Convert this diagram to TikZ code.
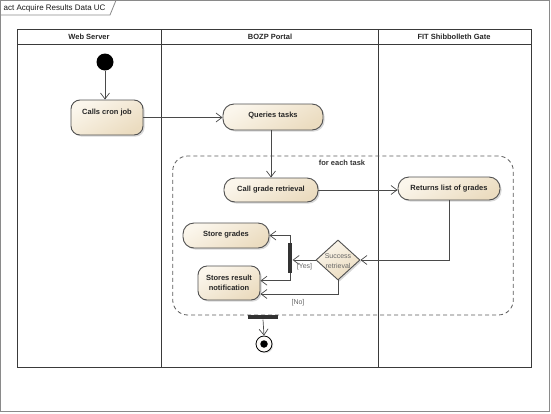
\documentclass[tikz,border=0pt]{standalone}
\usepackage{fontspec}
\setmainfont{Liberation Sans}
\usetikzlibrary{arrows.meta,shapes.geometric,shadows,calc}
\definecolor{linec}{HTML}{4A4A4A}
\definecolor{framec}{HTML}{8A8A8A}
\definecolor{lanec}{HTML}{3A3A3A}
\definecolor{boxtop}{HTML}{FBF6EC}
\definecolor{boxbot}{HTML}{EBDCC0}
\definecolor{boxdraw}{HTML}{505050}
\definecolor{guardc}{HTML}{666666}
\definecolor{regionc}{HTML}{5A5A5A}
\tikzset{
  actbase/.style={draw=boxdraw, line width=0.9pt, rounded corners=11pt,
    top color=boxtop, bottom color=boxbot, shading angle=30,
    drop shadow={shadow xshift=1.6pt,shadow yshift=-1.6pt,opacity=0.3},
    font=\fontsize{7.5}{9.6}\selectfont\bfseries, inner ysep=0pt, inner xsep=0pt, text=black!85},
  actbox/.style 2 args={actbase, text height=#1, text depth=#2},
  flow/.style={draw=linec, line width=0.7pt, -{Straight Barb[length=6pt,width=9pt]}},
  guard/.style={font=\fontsize{7}{8}\selectfont, text=guardc, inner sep=0pt},
  lanehead/.style={font=\fontsize{7.5}{9}\selectfont\bfseries, inner sep=0pt, text=black!85},
  barnode/.style={fill=black!80, draw=none, inner sep=0pt},
  region/.style={draw=regionc, line width=0.8pt, dash pattern=on 4pt off 3pt, rounded corners=15pt, inner sep=0pt},
}
\begin{document}
\begin{tikzpicture}[x=1pt,y=-1pt]
\useasboundingbox (0,0) rectangle (551,413);
% frame
\draw[framec, line width=1pt] (0.5,0.5) rectangle (549.5,411);
\draw[framec, line width=0.8pt] (0.5,15) -- (110,15) -- (115.7,1);
\node[font=\fontsize{8}{9}\selectfont, anchor=west, inner sep=0pt, text=black!90] (title) at (3.5,8.5) {act Acquire Results Data UC};
% swimlanes
\draw[lanec, line width=0.9pt] (17,29.5) rectangle (531.5,367);
\draw[lanec, line width=0.9pt] (17,44.5) -- (531.5,44.5);
\draw[lanec, line width=0.9pt] (161.5,29.5) -- (161.5,367);
\draw[lanec, line width=0.9pt] (378.5,29.5) -- (378.5,367);
\node[lanehead] (lane1) at (89,37) {Web Server};
\node[lanehead] (lane2) at (270,37) {BOZP Portal};
\node[lanehead] (lane3) at (454,37) {FIT Shibbolleth Gate};
% region
\node[region, minimum width=340.6pt, minimum height=159pt] (loop) at (343,235.5) {};
\node[font=\fontsize{7.5}{9}\selectfont\bfseries, inner sep=0pt, text=black!80] (looplabel) at (342,163) {for each task};
% nodes
\node[circle, fill=black, minimum size=17pt, inner sep=0pt] (start) at (105,62) {};
\node[actbox={14.5pt}{20.5pt}, minimum width=72pt, rounded corners=9pt] (cron) at (107,117.5) {Calls cron job};
\node[actbox={13.5pt}{12.5pt}, minimum width=100pt] (queries) at (273,117) {Queries tasks};
\node[actbox={13.5pt}{10.5pt}, minimum width=94pt] (callgrade) at (271,190) {Call grade retrieval};
\node[actbox={13.2pt}{9.8pt}, minimum width=102pt] (returns) at (449,188.5) {Returns list of grades};
\node[actbox={13.5pt}{11.5pt}, minimum width=86pt] (store) at (226,235.5) {Store grades};
\node[actbase, align=center, minimum width=62pt, minimum height=34pt, rounded corners=9pt] (notif) at (229,283) {Stores result\\notification};
\node[diamond, draw=boxdraw, line width=0.9pt, top color=boxtop, bottom color=boxbot, shading angle=30,
  drop shadow={shadow xshift=1.6pt,shadow yshift=-1.6pt,opacity=0.3},
  minimum width=44pt, minimum height=40pt, inner sep=0pt] (dec) at (338,260) {};
\node[font=\fontsize{7}{10}\selectfont, text=guardc, align=center, inner sep=0pt] (dectext) at (338,260.7) {Success\\retrieval};
\node[barnode, minimum width=4.5pt, minimum height=30pt] (fork) at (290.2,258) {};
\node[barnode, minimum width=30pt, minimum height=4.5pt] (pins) at (263,317.2) {};
\node[circle, draw=black, fill=white!90!boxbot, line width=0.8pt, minimum size=16pt, inner sep=0pt,
  drop shadow={shadow xshift=1.2pt,shadow yshift=-1.2pt,opacity=0.25}] (final) at (264,344) {};
\node[circle, fill=black, minimum size=7.5pt, inner sep=0pt] (finaldot) at (final.center) {};
% connectors
\draw[flow] (start) -- (start |- cron.north);
\draw[flow] (cron.east) -- (cron.east -| queries.west);
\draw[flow] (callgrade.north |- queries.south) -- (callgrade.north);
\draw[flow] (callgrade.east) -- (callgrade.east -| returns.west);
\draw[flow] (returns.south) |- (dec.east);
\draw[flow] (dec.west) -- (dec.west -| fork.east);
\draw[flow] (fork.north) |- (store.east);
\draw[flow] (fork.south) |- ([yshift=2.3pt]notif.east);
\draw[flow] (dec.south) |- ([yshift=-11pt]notif.east);
\draw[flow] (pins.south) -- (final.north);
% guards
\node[guard] (yes) at (304.5,267) {[Yes]};
\node[guard] (no) at (298,302.5) {[No]};
\end{tikzpicture}
\end{document}
